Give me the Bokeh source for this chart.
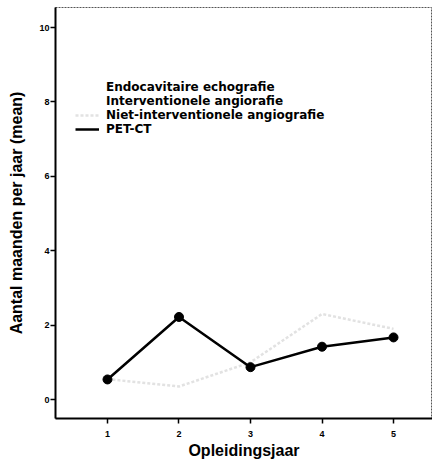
from bokeh.plotting import figure
from bokeh.models import Range1d, FixedTicker, Legend, LegendItem
from bokeh.embed import file_html
from bokeh.resources import INLINE

years = [1, 2, 3, 4, 5]
pet_ct = [0.54, 2.22, 0.87, 1.42, 1.67]
niet_interventionele = [0.55, 0.35, 1.0, 2.3, 1.9]
endocavitaire = []
interventionele = []
y_ticks = [0, 2, 4, 6, 8, 10]
x_label = "Opleidingsjaar"
y_label = "Aantal maanden per jaar (mean)"
series_names = ["Endocavitaire echografie", "Interventionele angiorafie",
                "Niet-interventionele angiografie", "PET-CT"]

FONT = "Liberation Sans"

p = figure(width=432, height=461, output_backend="svg", toolbar_location=None,
           x_range=Range1d(0.273, 5.545), y_range=Range1d(-0.51, 10.54),
           min_border_left=55, min_border_right=0, min_border_top=7, min_border_bottom=43)
p.xgrid.visible = False
p.ygrid.visible = False
p.outline_line_color = "#555555"
p.outline_line_width = 1
p.outline_line_dash = "2 1"

for ax in (p.xaxis[0], p.yaxis[0]):
    ax.axis_line_width = 2
    ax.axis_line_color = "black"
    ax.major_tick_line_width = 1.5
    ax.major_tick_out = 5
    ax.major_tick_in = 0
    ax.minor_tick_line_color = None
    ax.major_label_text_font = FONT
    ax.major_label_text_font_style = "bold"
    ax.major_label_text_font_size = "9px"
    ax.major_label_text_color = "black"
    ax.axis_label_text_font = FONT
    ax.axis_label_text_font_style = "bold"
    ax.axis_label_text_font_size = "16px"
    ax.axis_label_text_color = "black"

p.xaxis.ticker = FixedTicker(ticks=years)
p.yaxis.ticker = FixedTicker(ticks=y_ticks)
p.xaxis.axis_label = x_label
p.yaxis.axis_label = y_label
p.xaxis.axis_label_standoff = 2
p.yaxis.axis_label_standoff = 11
p.xaxis.major_label_standoff = 7
p.yaxis.major_label_standoff = 1

r_endo = p.line(x=endocavitaire, y=endocavitaire, line_color="white", line_width=2)
r_inter = p.line(x=interventionele, y=interventionele, line_color="white", line_width=2)
r_niet = p.line(x=years, y=niet_interventionele, line_color="#e2e2e2", line_width=2.5,
                line_dash="3 2")
r_pet = p.line(x=years, y=pet_ct, line_color="black", line_width=2.5)
p.scatter(x=years, y=pet_ct, size=9, color="black")

renderers = [r_endo, r_inter, r_niet, r_pet]
legend_y = [324, 310, 296, 282]
for name, rend, ly in zip(series_names, renderers, legend_y):
    lg = Legend(items=[LegendItem(label=name, renderers=[rend])], location=(20, ly))
    lg.label_text_font = "DejaVu Sans"
    lg.label_text_font_style = "bold"
    lg.label_text_font_size = "12px"
    lg.label_text_color = "black"
    lg.glyph_width = 24
    lg.glyph_height = 12
    lg.label_height = 12
    lg.padding = 2
    lg.label_standoff = 7
    lg.border_line_color = None
    lg.background_fill_alpha = 0
    p.add_layout(lg)

open("out.html", "w").write(file_html(p, INLINE))
